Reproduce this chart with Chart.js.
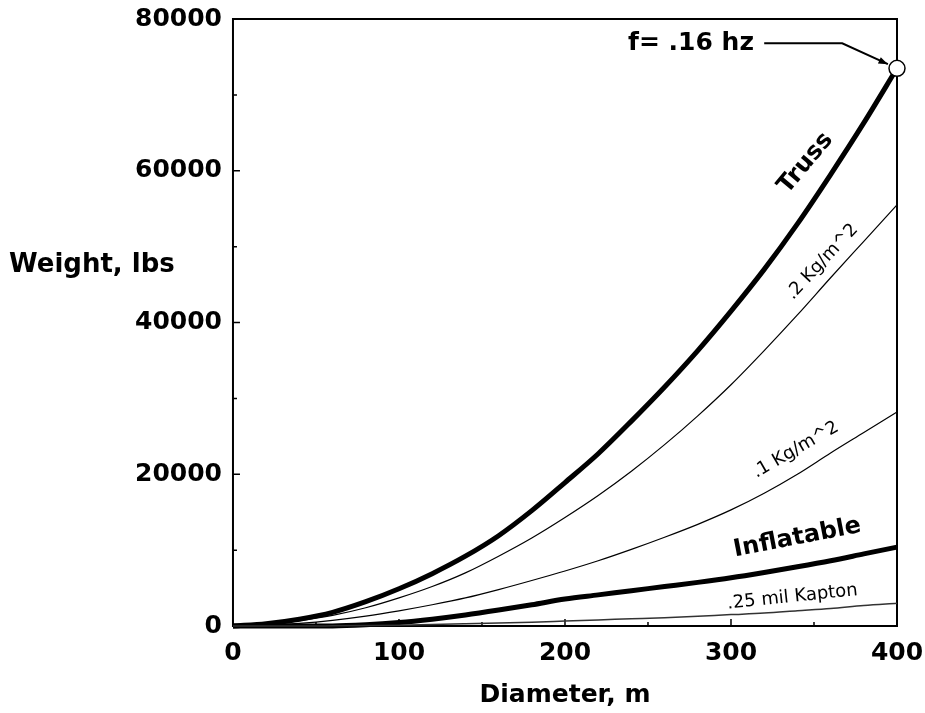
<!DOCTYPE html>
<html>
<head>
<meta charset="utf-8">
<script src="https://cdn.jsdelivr.net/npm/chart.js@4.4.1/dist/chart.umd.min.js"></script>
<style>
  html, body { margin: 0; padding: 0; background: #fff; }
  #wrap { width: 925px; height: 713px; }
</style>
</head>
<body>
<div id="wrap"><canvas id="chart"></canvas></div>
<script>
// diameter, m
const diameters = [0, 20, 40, 60, 80, 100, 120, 140, 160, 180, 200, 220, 240, 260, 280, 300, 320, 340, 360, 380, 400];

// weight, lbs
const truss      = [0, 300, 900, 1800, 3200, 4900, 6900, 9200, 11900, 15200, 18900, 22700, 27000, 31500, 36300, 41500, 47000, 53000, 59500, 66300, 73500];
const kg02       = [0, 200, 700, 1400, 2400, 3700, 5200, 7000, 9200, 11600, 14300, 17200, 20400, 23900, 27700, 31800, 36300, 41000, 45900, 50700, 55500];
const kg01       = [0, 100, 350, 750, 1300, 2000, 2800, 3700, 4800, 6000, 7250, 8600, 10100, 11700, 13400, 15300, 17500, 20000, 22800, 25500, 28200];
const inflatable = [0, 0, 0, 0, 150, 450, 900, 1450, 2100, 2800, 3550, 4100, 4650, 5200, 5750, 6350, 7050, 7800, 8600, 9500, 10400];
const kapton     = [0, 0, 0, 20, 50, 100, 200, 300, 400, 500, 650, 800, 950, 1100, 1300, 1500, 1700, 2000, 2300, 2700, 3000];

const xMax = 400, xStep = 100, xMinorStep = 50;
const yMax = 80000, yStep = 20000, yMinorStep = 10000;

// curve labels: [text, diameter, weight, angle deg, font]
const curveLabels = [
  ["Truss", 345, 61000, -50, "bold 24px 'DejaVu Sans'"],
  [".2 Kg/m^2", 355, 48000, -47, "18px 'DejaVu Sans'"],
  [".1 Kg/m^2", 339, 23200, -30, "18px 'DejaVu Sans'"],
  ["Inflatable", 340, 11600, -11, "bold 24px 'DejaVu Sans'"],
  [".25 mil Kapton", 337, 3800, -6, "18px 'DejaVu Sans'"]
];
const freqLabel = "f= .16 hz";

function pts(ys) {
  return diameters.map((d, i) => ({ x: d, y: ys[i] }));
}

function line(label, ys, width, color) {
  return {
    label: label,
    data: pts(ys),
    borderColor: color,
    borderWidth: width,
    pointRadius: 0,
    fill: false,
    clip: false,
    cubicInterpolationMode: "monotone"
  };
}

const frame = {
  id: "frame",
  beforeDatasetsDraw(chart) {
    const { ctx, chartArea: a, scales: { x, y } } = chart;
    ctx.save();
    ctx.strokeStyle = "#000";
    ctx.lineWidth = 2;
    ctx.strokeRect(a.left, a.top, a.right - a.left, a.bottom - a.top);

    // inward ticks
    ctx.lineWidth = 1.5;
    ctx.beginPath();
    for (let v = xMinorStep; v < xMax; v += xMinorStep) {
      const px = x.getPixelForValue(v);
      const len = v % xStep === 0 ? 7 : 4;
      ctx.moveTo(px, a.bottom); ctx.lineTo(px, a.bottom - len);
    }
    for (let v = yMinorStep; v < yMax; v += yMinorStep) {
      const py = y.getPixelForValue(v);
      const len = v % yStep === 0 ? 7 : 4;
      ctx.moveTo(a.left, py); ctx.lineTo(a.left + len, py);
    }
    ctx.stroke();
    ctx.restore();
  },
  afterDatasetsDraw(chart) {
    const { ctx, scales: { x, y } } = chart;
    ctx.save();
    // y axis title, horizontal
    ctx.fillStyle = "#000";
    ctx.strokeStyle = "#000";
    ctx.font = "bold 26px 'DejaVu Sans'";
    ctx.textAlign = "left";
    ctx.textBaseline = "middle";
    ctx.fillText("Weight, lbs", 9, y.getPixelForValue(47500));

    // curve labels
    curveLabels.forEach(([t, d, w, ang, font]) => {
      ctx.save();
      ctx.translate(x.getPixelForValue(d), y.getPixelForValue(w));
      ctx.rotate(ang * Math.PI / 180);
      ctx.font = font;
      ctx.textAlign = "center";
      ctx.textBaseline = "middle";
      ctx.fillText(t, 0, 0);
      ctx.restore();
    });

    // frequency callout with arrow to the end of the truss curve
    const ty = y.getPixelForValue(76800);
    ctx.font = "bold 25px 'DejaVu Sans'";
    ctx.textAlign = "left";
    ctx.fillText(freqLabel, x.getPixelForValue(238), ty);
    const endX = x.getPixelForValue(diameters[diameters.length - 1]);
    const endY = y.getPixelForValue(truss[truss.length - 1]);
    const x0 = x.getPixelForValue(320), x1 = x.getPixelForValue(367);
    const ang = Math.atan2(endY - ty, endX - x1);
    const tipX = endX - 10 * Math.cos(ang), tipY = endY - 10 * Math.sin(ang);
    ctx.lineWidth = 2;
    ctx.beginPath();
    ctx.moveTo(x0, ty); ctx.lineTo(x1, ty); ctx.lineTo(tipX, tipY);
    ctx.stroke();
    ctx.beginPath();
    ctx.moveTo(tipX, tipY);
    ctx.lineTo(tipX - 10 * Math.cos(ang - 0.35), tipY - 10 * Math.sin(ang - 0.35));
    ctx.lineTo(tipX - 10 * Math.cos(ang + 0.35), tipY - 10 * Math.sin(ang + 0.35));
    ctx.closePath();
    ctx.fill();
    ctx.restore();
  }
};

const trussSet = line("Truss", truss, 5, "#000");
trussSet.pointRadius = (c) => (c.dataIndex === diameters.length - 1 ? 8 : 0);
trussSet.pointBackgroundColor = "#fff";
trussSet.pointBorderColor = "#000";
trussSet.pointBorderWidth = 1.5;

const tickFont = { family: "DejaVu Sans", size: 25, weight: "bold" };

new Chart(document.getElementById("chart"), {
  type: "line",
  data: {
    datasets: [
      line(".25 mil Kapton", kapton, 1.5, "#333"),
      line(".1 Kg/m^2", kg01, 1.2, "#000"),
      line(".2 Kg/m^2", kg02, 1.2, "#000"),
      line("Inflatable", inflatable, 5, "#000"),
      trussSet
    ]
  },
  options: {
    responsive: true,
    maintainAspectRatio: false,
    animation: false,
    layout: { padding: { left: 124, top: 19, right: 28, bottom: 3 } },
    plugins: { legend: { display: false }, tooltip: { enabled: false } },
    scales: {
      x: {
        type: "linear",
        min: 0,
        max: xMax,
        grid: { display: false, drawTicks: false },
        border: { display: false },
        ticks: { stepSize: xStep, color: "#000", font: tickFont, padding: 12 },
        title: { display: true, text: "Diameter, m", color: "#000", font: { family: "DejaVu Sans", size: 25, weight: "bold" }, padding: { top: 0, bottom: 0 } },
        afterFit: (s) => { s.paddingLeft = 0; s.paddingRight = 0; }
      },
      y: {
        min: 0,
        max: yMax,
        grid: { display: false, drawTicks: false },
        border: { display: false },
        ticks: { stepSize: yStep, color: "#000", font: tickFont, padding: 11, callback: (v) => String(v) },
        afterFit: (s) => { s.paddingTop = 0; s.paddingBottom = 0; }
      }
    }
  },
  plugins: [frame]
});
</script>
</body>
</html>
